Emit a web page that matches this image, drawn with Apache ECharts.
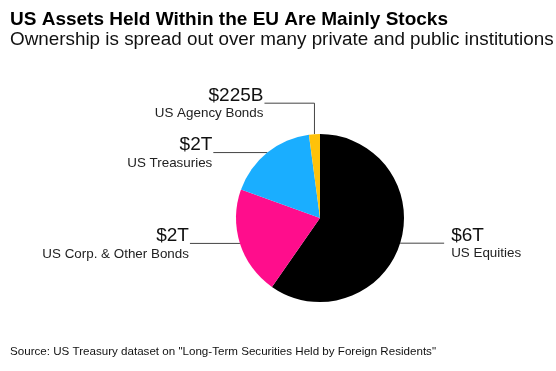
<!DOCTYPE html>
<html>
<head>
<meta charset="utf-8">
<script src="https://cdn.jsdelivr.net/npm/echarts@6/dist/echarts.min.js"></script>
<style>
html,body{margin:0;padding:0;background:#fff;}
#c{width:556px;height:371px;}
</style>
</head>
<body>
<div id="c"></div>
<script>
// Data (US$ billions)
var categories = ['US Equities', 'US Corp. & Other Bonds', 'US Treasuries', 'US Agency Bonds'];
var values = [6390, 2230, 1860, 225];
var valueLabels = ['$6T', '$2T', '$2T', '$225B'];
var sliceColors = ['#000000', '#ff0d8c', '#1aaeff', '#ffc20a'];

var titleText = 'US Assets Held Within the EU Are Mainly Stocks';
var subtitleText = 'Ownership is spread out over many private and public institutions';
var sourceText = 'Source: US Treasury dataset on "Long-Term Securities Held by Foreign Residents"';

var FONT = '"Liberation Sans", Arial, Helvetica, sans-serif';

var chart = echarts.init(document.getElementById('c'), null, {renderer: 'canvas'});

var data = categories.map(function (name, i) {
  return {name: name, value: values[i], itemStyle: {color: sliceColors[i]}};
});

// Label line geometry per slice: horizontal length, side, optional vertical rise
var lineSpec = [
  {dir: 1, len: 44, rise: 0},
  {dir: -1, len: 50, rise: 0},
  {dir: -1, len: 54, rise: 0},
  {dir: -1, len: 50, rise: 31}
];

chart.setOption({
  animation: false,
  backgroundColor: '#ffffff',
  title: [
    {text: titleText, left: 10, top: 10.5, padding: 0,
     textStyle: {fontFamily: FONT, fontSize: 19, fontWeight: 'bold', color: '#000', lineHeight: 19}},
    {text: subtitleText, left: 10, top: 30.5, padding: 0,
     textStyle: {fontFamily: FONT, fontSize: 18.85, fontWeight: 'normal', color: '#111', lineHeight: 19}},
    {text: sourceText, left: 10, top: 345.5, padding: 0,
     textStyle: {fontFamily: FONT, fontSize: 11.6, fontWeight: 'normal', color: '#111', lineHeight: 12}}
  ],
  series: [{
    type: 'pie',
    center: [320, 218],
    radius: 84,
    startAngle: 90,
    clockwise: true,
    avoidLabelOverlap: false,
    emphasis: {disabled: true},
    data: data,
    label: {
      show: true,
      position: 'outside',
      formatter: function (p) {
        return '{v|' + valueLabels[p.dataIndex] + '}\n{n|' + p.name + '}';
      },
      rich: {
        v: {fontFamily: FONT, fontSize: 19, color: '#111', lineHeight: 20},
        n: {fontFamily: FONT, fontSize: 13.4, color: '#222', lineHeight: 16}
      }
    },
    labelLine: {
      show: true,
      length: 20,
      length2: 20,
      lineStyle: {color: '#444', width: 1}
    },
    labelLayout: function (p) {
      var i = p.dataIndex;
      var sp = lineSpec[i];
      var s = p.labelLinePoints[0];
      var pts = [[s[0], s[1]]];
      var y = s[1] - sp.rise;
      if (sp.rise) pts.push([s[0], y]);
      var endX = s[0] + sp.dir * sp.len;
      pts.push([endX, y]);
      return {
        x: endX + (sp.dir > 0 ? 7 : -1),
        y: y - 17.5,
        align: sp.dir > 0 ? 'left' : 'right',
        verticalAlign: 'top',
        labelLinePoints: pts
      };
    }
  }]
});
</script>
</body>
</html>
